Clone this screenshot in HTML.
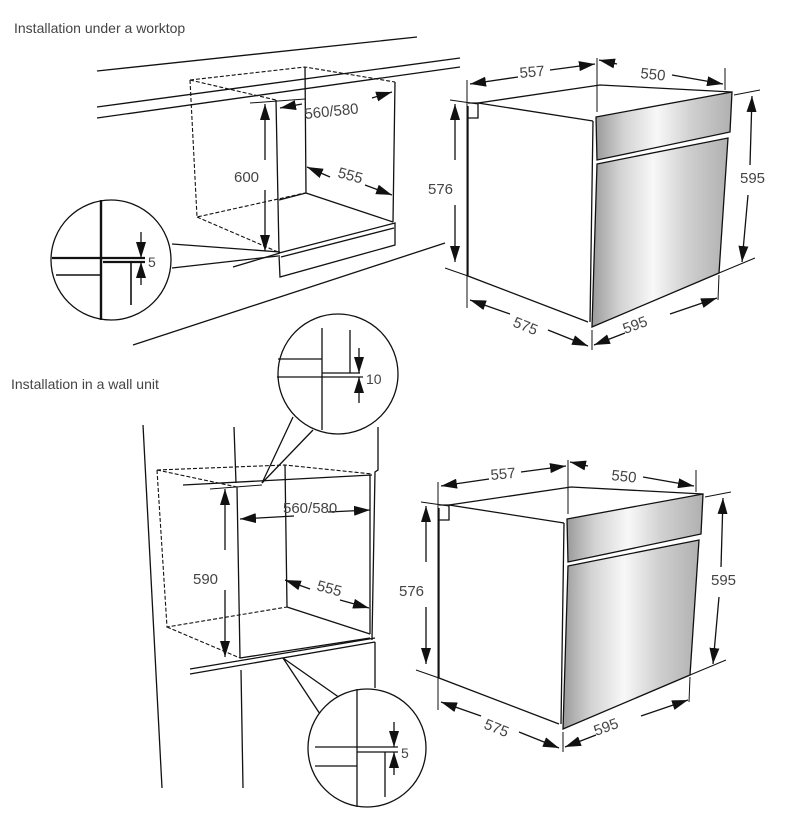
<!DOCTYPE html>
<html><head><meta charset="utf-8"><style>
html,body{margin:0;padding:0;background:#fff}
svg{display:block}
text{font-family:"Liberation Sans",sans-serif;fill:#444}
</style></head><body>
<svg width="792" height="824" viewBox="0 0 792 824" xmlns="http://www.w3.org/2000/svg">
<defs>
<marker id="b" viewBox="0 0 16 10" refX="16" refY="5" markerWidth="16" markerHeight="10" orient="auto-start-reverse" markerUnits="userSpaceOnUse"><path d="M0,0L16,5L0,10z" fill="#111"/></marker>
<linearGradient id="g" x1="0" y1="0" x2="1" y2="0">
<stop offset="0" stop-color="#9a9a9a"/><stop offset="0.2" stop-color="#d2d2d2"/><stop offset="0.45" stop-color="#f8f8f8"/><stop offset="0.7" stop-color="#d0d0d0"/><stop offset="1" stop-color="#b0b0b0"/></linearGradient>
<g id="oven" stroke="#111" stroke-width="1.3" fill="none">
<path d="M478,103 L600,85 L732,92"/>
<path d="M478,103 L593,121"/>
<path d="M468,106 L468,276 L588,322"/>
<path d="M468,103 L478,103 L478,118 L468,118"/>
<path d="M593,121 L590,322"/>
<path d="M596,117 L732,92 L730,132 L597,160 Z" fill="url(#g)"/>
<path d="M597,164 L728,138 L719,273 L592,327 Z" fill="url(#g)"/>
<path d="M450,100 L478,104" stroke-width="1"/>
<path d="M445,268 L468,276" stroke-width="1"/>
<path d="M467,80 L467,308" stroke-width="1"/>
<path d="M597,58 L597,112" stroke-width="1"/>
<path d="M725,68 L725,90" stroke-width="1"/>
<path d="M734,95 L760,90" stroke-width="1"/>
<path d="M719,273 L755,258" stroke-width="1"/>
<path d="M592,330 L592,350" stroke-width="1"/>
<path d="M719,275 L718,300" stroke-width="1"/>
<path d="M518,77 L470,84" marker-end="url(#b)"/>
<path d="M550,70 L595,64" marker-end="url(#b)"/>
<path d="M617,64 L599,60" marker-end="url(#b)"/>
<path d="M672,75 L723,84" marker-end="url(#b)"/>
<path d="M455,160 L455,104" marker-end="url(#b)"/>
<path d="M455,205 L455,262" marker-end="url(#b)"/>
<path d="M750,165 L752,96" marker-end="url(#b)"/>
<path d="M748,195 L742,262" marker-end="url(#b)"/>
<path d="M510,314 L470,300" marker-end="url(#b)"/>
<path d="M548,330 L588,346" marker-end="url(#b)"/>
<path d="M625,333 L594,345" marker-end="url(#b)"/>
<path d="M670,314 L717,298" marker-end="url(#b)"/>
</g>
</defs>

<text x="14" y="33" font-size="14">Installation under a worktop</text>
<text x="11" y="389" font-size="14">Installation in a wall unit</text>

<g stroke="#111" stroke-width="1.3" fill="none">
<path d="M97,71 L417,37"/>
<path d="M97,107 L460,58"/>
<path d="M97,118 L460,67"/>
<path d="M133,345 L445,243"/>
<g stroke-dasharray="4,2" stroke-width="1.1">
<path d="M190,80 L305,67 L395,82"/>
<path d="M190,80 L276,100"/>
<path d="M190,80 L197,217 L305,193"/>
<path d="M197,217 L278,252"/>
</g>
<path d="M276,100 L279,253"/>
<path d="M305,67 L306,193 L393,222"/>
<path d="M279,200 L306,193"/>
<path d="M395,82 L393,222"/>
<path d="M279,253 L395,223 L395,245 L280,277 L279,255"/>
<path d="M281,257 L394,228"/>
<path d="M250,103 L305,99" stroke-width="1"/>
<path d="M233,267 L280,253"/>
<path d="M265,160 L265,104" marker-end="url(#b)"/>
<path d="M265,190 L265,251" marker-end="url(#b)"/>
<path d="M302,104 L280,108" marker-end="url(#b)"/>
<path d="M372,98 L392,92" marker-end="url(#b)"/>
<path d="M330,177 L307,167" marker-end="url(#b)"/>
<path d="M365,185 L392,195" marker-end="url(#b)"/>
<path d="M172,244 L280,252 M172,268 L278,256"/>
<circle cx="111" cy="260" r="60" fill="#fff"/>
<path d="M101,200 L101,320" stroke-width="2.4"/>
<path d="M52,258 L145,258 M103,262 L145,262" stroke-width="2.2"/>
<path d="M56,275 L101,275 M131,262 L131,305" stroke-width="1.6"/>
<path d="M141,232 L141,258" marker-end="url(#b)"/>
<path d="M141,285 L141,262" marker-end="url(#b)"/>
</g>
<text x="234" y="182" font-size="15">600</text>
<text x="305" y="119" font-size="15" transform="rotate(-6 305 119)">560/580</text>
<text x="337" y="177" font-size="15" transform="rotate(15 337 177)">555</text>
<text x="148" y="267" font-size="14">5</text>

<use href="#oven"/>
<use href="#oven" transform="translate(-29,402)"/>
<g font-size="15">
<text x="520" y="78" transform="rotate(-5 520 78)">557</text>
<text x="640" y="78" transform="rotate(6 640 78)">550</text>
<text x="428" y="194">576</text>
<text x="740" y="183">595</text>
<text x="512" y="326" transform="rotate(22 512 326)">575</text>
<text x="625" y="334" transform="rotate(-20 625 334)">595</text>
<text x="491" y="480" transform="rotate(-5 491 480)">557</text>
<text x="611" y="480" transform="rotate(6 611 480)">550</text>
<text x="399" y="596">576</text>
<text x="711" y="585">595</text>
<text x="483" y="728" transform="rotate(22 483 728)">575</text>
<text x="596" y="736" transform="rotate(-20 596 736)">595</text>
</g>

<g stroke="#111" stroke-width="1.3" fill="none">
<path d="M143,425 L162,788"/>
<path d="M234,427 L236,483"/>
<path d="M241,670 L243,788"/>
<path d="M378,427 L378,470 L375,472 L372,640"/>
<path d="M375,642 L375,688"/>
<g stroke-dasharray="4,2" stroke-width="1.1">
<path d="M157,470 L285,465 L372,474"/>
<path d="M157,470 L167,627 L287,607"/>
<path d="M167,627 L240,658"/>
<path d="M157,470 L237,487"/>
</g>
<path d="M183,485 L372,475"/>
<path d="M210,489 L262,485" stroke-width="1"/>
<path d="M237,487 L240,658"/>
<path d="M285,465 L287,607 L370,634"/>
<path d="M370,475 L370,634"/>
<path d="M240,658 L370,638"/>
<path d="M190,669 L375,638 M190,674 L375,642"/>
<path d="M225,550 L225,489" marker-end="url(#b)"/>
<path d="M225,590 L225,657" marker-end="url(#b)"/>
<path d="M294,516 L240,519" marker-end="url(#b)"/>
<path d="M328,512 L370,510" marker-end="url(#b)"/>
<path d="M310,589 L285,580" marker-end="url(#b)"/>
<path d="M340,600 L369,608" marker-end="url(#b)"/>
<path d="M293,417 L262,483 L313,430"/>
<circle cx="338" cy="374" r="60" fill="#fff"/>
<path d="M322,328 L322,430"/>
<path d="M278,359 L322,359"/>
<path d="M277,377 L363,377 M322,373 L360,373 M350,330 L350,373"/>
<path d="M359,348 L359,373" marker-end="url(#b)"/>
<path d="M359,403 L359,377" marker-end="url(#b)"/>
<path d="M322,717 L283,658 L340,698"/>
<circle cx="367" cy="748" r="59" fill="#fff"/>
<path d="M357,689 L357,807"/>
<path d="M315,747 L398,747 M357,752 L398,752 M315,766 L357,766 M385,752 L385,797"/>
<path d="M394,722 L394,747" marker-end="url(#b)"/>
<path d="M394,775 L394,752" marker-end="url(#b)"/>
</g>
<text x="366" y="384" font-size="14">10</text>
<text x="401" y="758" font-size="14">5</text>
<text x="193" y="584" font-size="15">590</text>
<text x="283" y="513" font-size="15">560/580</text>
<text x="316" y="590" font-size="15" transform="rotate(15 316 590)">555</text>
</svg>
</body></html>
